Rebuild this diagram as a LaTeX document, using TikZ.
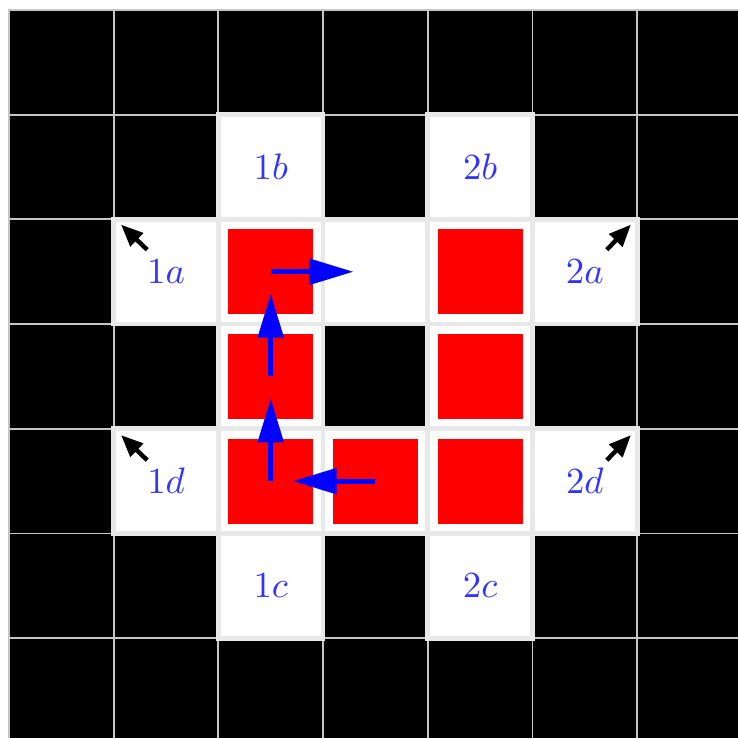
\documentclass[tikz,border=0pt]{standalone}
\usetikzlibrary{arrows.meta,calc}
\begin{document}
\begin{tikzpicture}[
  blackcell/.style={rectangle, minimum size=1cm, inner sep=0pt, outer sep=0pt, fill=black, draw=gray!45, line width=0.5pt},
  whitecell/.style={rectangle, minimum size=1cm, inner sep=0pt, outer sep=0pt, fill=white, draw=gray!18, line width=1.3pt, text=blue!80},
  redsq/.style={rectangle, minimum size=0.81cm, inner sep=0pt, outer sep=0pt, fill=red},
  bluearrow/.style={draw=blue, line width=1.4pt, -{Triangle[length=4.2mm,width=2.4mm]}},
  blackarrow/.style={draw=black, line width=1.2pt, -{Triangle[length=2.1mm,width=1.7mm]}}
]
\useasboundingbox (-0.086,0.0955) rectangle (6.963,-6.953);
% black cells
\foreach \c/\r in {0/0,1/0,2/0,3/0,4/0,5/0,6/0,
                   0/1,1/1,3/1,5/1,6/1,
                   0/2,6/2,
                   0/3,1/3,3/3,5/3,6/3,
                   0/4,6/4,
                   0/5,1/5,3/5,5/5,6/5,
                   0/6,1/6,2/6,3/6,4/6,5/6,6/6}
  \node[blackcell] (b\c\r) at (\c+0.5,-\r-0.5) {};
% white cells
\node[whitecell] (w21) at (2.5,-1.5) {$1b$};
\node[whitecell] (w41) at (4.5,-1.5) {$2b$};
\node[whitecell] (w12) at (1.5,-2.5) {$1a$};
\node[whitecell] (w22) at (2.5,-2.5) {};
\node[whitecell] (w32) at (3.5,-2.5) {};
\node[whitecell] (w42) at (4.5,-2.5) {};
\node[whitecell] (w52) at (5.5,-2.5) {$2a$};
\node[whitecell] (w23) at (2.5,-3.5) {};
\node[whitecell] (w43) at (4.5,-3.5) {};
\node[whitecell] (w14) at (1.5,-4.5) {$1d$};
\node[whitecell] (w24) at (2.5,-4.5) {};
\node[whitecell] (w34) at (3.5,-4.5) {};
\node[whitecell] (w44) at (4.5,-4.5) {};
\node[whitecell] (w54) at (5.5,-4.5) {$2d$};
\node[whitecell] (w25) at (2.5,-5.5) {$1c$};
\node[whitecell] (w45) at (4.5,-5.5) {$2c$};
% red squares
\foreach \n in {22,42,23,43,24,34,44}
  \node[redsq] (r\n) at (w\n) {};
% black arrows
\coordinate (s1a) at ($(w12)+(-0.18,0.21)$);
\coordinate (e1a) at ($(w12)+(-0.43,0.45)$);
\coordinate (s2a) at ($(w52)+(0.21,0.21)$);
\coordinate (e2a) at ($(w52)+(0.44,0.45)$);
\coordinate (s1d) at ($(w14)+(-0.18,0.20)$);
\coordinate (e1d) at ($(w14)+(-0.43,0.44)$);
\coordinate (s2d) at ($(w54)+(0.21,0.20)$);
\coordinate (e2d) at ($(w54)+(0.44,0.44)$);
\draw[blackarrow] (s1a) -- (e1a);
\draw[blackarrow] (s2a) -- (e2a);
\draw[blackarrow] (s1d) -- (e1d);
\draw[blackarrow] (s2d) -- (e2d);
% blue arrows
\coordinate (t1) at ($(r22)+(0.79,0)$);
\coordinate (t2) at ($(r23)+(0,0.79)$);
\coordinate (t3) at ($(r24)+(0,0.79)$);
\coordinate (t4) at ($(r34)+(-0.79,0)$);
\draw[bluearrow] (r22.center) -- (t1);
\draw[bluearrow] (r23.center) -- (t2);
\draw[bluearrow] (r24.center) -- (t3);
\draw[bluearrow] (r34.center) -- (t4);
\end{tikzpicture}
\end{document}
